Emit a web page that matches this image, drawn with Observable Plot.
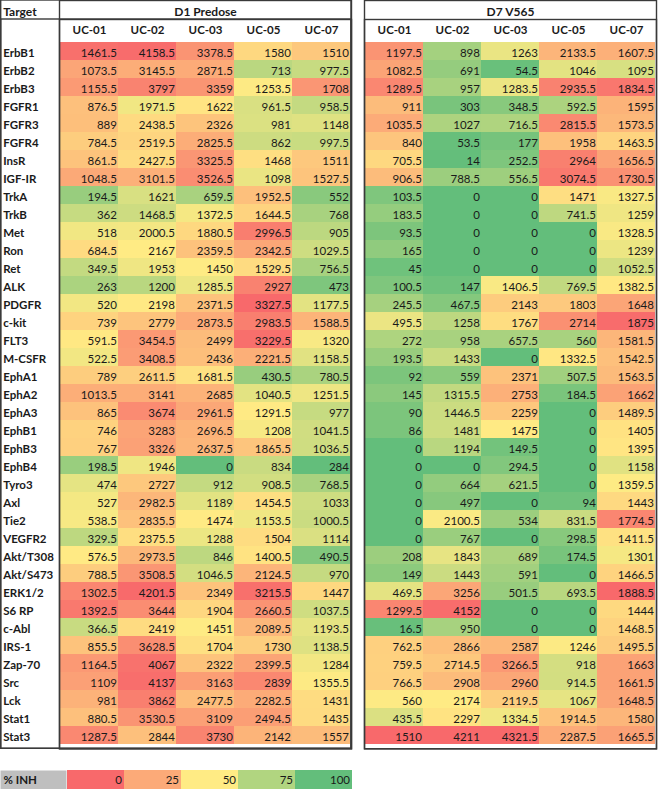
<!DOCTYPE html>
<html><head><meta charset="utf-8">
<script src="https://cdn.jsdelivr.net/npm/d3@7"></script>
<script src="https://cdn.jsdelivr.net/npm/@observablehq/plot@0.6"></script>
<style>
body{margin:0;background:#fff;font-family:Lato,sans-serif;}
#legend{margin-top:21px;line-height:0}
#chart{line-height:0}
</style></head><body><div id="chart"></div><div id="legend"></div>
<script>
const targets=["ErbB1","ErbB2","ErbB3","FGFR1","FGFR3","FGFR4","InsR","IGF-IR","TrkA","TrkB","Met","Ron","Ret","ALK","PDGFR","c-kit","FLT3","M-CSFR","EphA1","EphA2","EphA3","EphB1","EphB3","EphB4","Tyro3","Axl","Tie2","VEGFR2","Akt/T308","Akt/S473","ERK1/2","S6 RP","c-Abl","IRS-1","Zap-70","Src","Lck","Stat1","Stat3"];
const patients=["UC-01","UC-02","UC-03","UC-05","UC-07"];
const days=["D1 Predose","D7 V565"];
const legendStops=[0,25,50,75,100];

const d1_UC01=[1461.5,1073.5,1155.5,876.5,889,784.5,861.5,1048.5,194.5,362,518,684.5,349.5,263,520,739,591.5,522.5,789,1013.5,865,746,767,198.5,474,527,538.5,329.5,576.5,788.5,1302.5,1392.5,366.5,855.5,1164.5,1109,981,880.5,1287.5];
const d1_UC02=[4158.5,3145.5,3797,1971.5,2438.5,2519.5,2427.5,3101.5,1621,1468.5,2000.5,2167,1953,1200,2198,2779,3454.5,3408.5,2611.5,3141,3674,3283,3326,1946,2727,2982.5,2835.5,2375.5,2973.5,3508.5,4201.5,3644,2419,3628.5,4067,4137,3862,3530.5,2844];
const d1_UC03=[3378.5,2871.5,3359,1622,2326,2825.5,3325.5,3526.5,659.5,1372.5,1880.5,2359.5,1450,1285.5,2371.5,2873.5,2499,2436,1681.5,2685,2961.5,2696.5,2637.5,0,912,1189,1474,1288,846,1046.5,2349,1904,1451,1704,2322,3163,2477.5,3109,3730];
const d1_UC05=[1580,713,1253.5,961.5,981,862,1468,1098,1952.5,1644.5,2996.5,2342.5,1529.5,2927,3327.5,2983.5,3229.5,2221.5,430.5,1040.5,1291.5,1208,1865.5,834,908.5,1454.5,1153.5,1504,1400.5,2124.5,3215.5,2660.5,2089.5,1730,2399.5,2839,2282.5,2494.5,2142];
const d1_UC07=[1510,977.5,1708,958.5,1148,997.5,1511,1527.5,552,768,905,1029.5,756.5,473,1177.5,1588.5,1320,1158.5,780.5,1251.5,977,1041.5,1036.5,284,768.5,1033,1000.5,1114,490.5,970,1447,1037.5,1193.5,1138.5,1284,1355.5,1431,1435,1557];
const d7_UC01=[1197.5,1082.5,1289.5,911,1035.5,840,705.5,906.5,103.5,183.5,93.5,165,45,100.5,245.5,495.5,272,193.5,92,145,90,86,0,0,0,0,0,0,208,149,469.5,1299.5,16.5,762.5,759.5,766.5,560,435.5,1510];
const d7_UC02=[898,691,957,303,1027,53.5,14,788.5,0,0,0,0,0,147,467.5,1258,958,1433,559,1315.5,1446.5,1481,1194,0,664,497,2100.5,767,1843,1443,3256,4152,950,2866,2714.5,2908,2174,2297,4211];
const d7_UC03=[1263,54.5,1283.5,348.5,716.5,177,252.5,556.5,0,0,0,0,0,1406.5,2143,1767,657.5,0,2371,2753,2259,1475,149.5,294.5,621.5,0,534,0,689,591,501.5,0,0,2587,3266.5,2960,2119.5,1334.5,4321.5];
const d7_UC05=[2133.5,1046,2935.5,592.5,2815.5,1958,2964,3074.5,1471,741.5,0,0,0,769.5,1803,2714,560,1332.5,507.5,184.5,0,0,0,0,0,94,831.5,298.5,174.5,0,693.5,0,0,1246,918,914.5,1067,1914.5,2287.5];
const d7_UC07=[1607.5,1095,1834.5,1595,1573.5,1463.5,1656.5,1730.5,1327.5,1259,1328.5,1239,1052.5,1382.5,1648,1875,1581.5,1542.5,1563.5,1662,1489.5,1405,1395,1158,1359.5,1443,1774.5,1411.5,1301,1466.5,1888.5,1444,1468.5,1495.5,1663,1661.5,1648.5,1580,1665.5];

const series=[
 [days[0],"UC-01",d1_UC01],[days[0],"UC-02",d1_UC02],[days[0],"UC-03",d1_UC03],[days[0],"UC-05",d1_UC05],[days[0],"UC-07",d1_UC07],
 [days[1],"UC-01",d7_UC01],[days[1],"UC-02",d7_UC02],[days[1],"UC-03",d7_UC03],[days[1],"UC-05",d7_UC05],[days[1],"UC-07",d7_UC07]
];
const rows=[];
for(const [day,patient,vals] of series) vals.forEach((v,i)=>rows.push({day,patient,target:targets[i],value:v}));
// Excel-style 3-colour scale per patient (min / median / max over both days)
for(const p of patients){
  const vs=rows.filter(r=>r.patient===p).map(r=>r.value).sort(d3.ascending);
  const lo=vs[0],hi=vs[vs.length-1],med=d3.quantileSorted(vs,0.5);
  for(const r of rows) if(r.patient===p){
    const t=r.value<=med?0.5*(r.value-lo)/(med-lo):0.5+0.5*(r.value-med)/(hi-med);
    r.inh=100*(1-t);
  }
}
const colorScale={type:"linear",domain:[0,50,100],range:["#F8696B","#FFEB84","#63BE7B"],interpolate:"rgb"};
const ink="#1a1a1a", line="#3a3a3a";
const fs="11.5px";
const mt=37.5;

const chart=Plot.plot({
  width:658,height:749,marginLeft:59,marginRight:1,marginTop:mt,marginBottom:0.7,
  style:{fontFamily:"Lato, sans-serif",fontSize:fs,color:ink,background:"#fff",overflow:"visible"},
  fx:{domain:days,paddingInner:13/305.5,paddingOuter:0,axis:null,label:null},
  x:{domain:patients,padding:0,axis:null},
  y:{domain:targets,padding:0,axis:null},
  color:colorScale,
  marks:[
    Plot.cell(rows,{fx:"day",x:"patient",y:"target",fill:"inh"}),
    Plot.text(rows,{fx:"day",x:"patient",y:"target",text:d=>String(d.value),textAnchor:"end",dx:27.4,dy:1.5,fill:ink}),
    Plot.axisY({tickSize:0,tickPadding:56.3,textAnchor:"start",fontWeight:"bold",dy:1.5,label:null,fill:ink}),
    Plot.axisX({anchor:"top",tickSize:0,tickPadding:8,lineAnchor:"middle",fontWeight:"bold",label:null,fill:ink}),
    Plot.axisFx({anchor:"top",tickSize:0,tickPadding:25.5,lineAnchor:"middle",fontWeight:"bold",fontSize:"12px",label:null,fill:ink}),
    Plot.text(["Target"],{fx:()=>days[0],frameAnchor:"top-left",textAnchor:"start",dx:-56.3,dy:-25.5,lineAnchor:"middle",fontWeight:"bold",fontSize:"12px",fill:ink}),
    Plot.frame({insetTop:-mt,stroke:line,strokeWidth:1.4}),
    Plot.frame({insetTop:-18.5,stroke:line,strokeWidth:1.4}),
    Plot.rect([days[0]],{fx:d=>d,insetLeft:-58.3,insetTop:-mt,stroke:line,strokeWidth:1.4,fill:"none"}),
    Plot.rect([days[0]],{fx:d=>d,insetLeft:-58.3,insetTop:-18.5,stroke:line,strokeWidth:1.4,fill:"none"})
  ]
});
document.getElementById("chart").append(chart);

const legend=Plot.plot({
  width:352,height:19,marginLeft:66,marginRight:0,marginTop:0,marginBottom:0,
  style:{fontFamily:"Lato, sans-serif",fontSize:fs,color:ink,background:"#fff",overflow:"visible"},
  x:{type:"band",domain:legendStops,padding:0,axis:null},
  color:colorScale,
  marks:[
    Plot.frame({fill:"#bfbfbf",stroke:"none",insetLeft:-66,insetRight:286}),
    Plot.text(["% INH"],{frameAnchor:"left",dx:-63,textAnchor:"start",fontWeight:"bold",fill:ink,dy:0.5}),
    Plot.cell(legendStops,{x:d=>d,fill:d=>d}),
    Plot.text(legendStops,{x:d=>d,text:d=>String(d),textAnchor:"end",dx:26,dy:0.5,fill:ink})
  ]
});
document.getElementById("legend").append(legend);
</script></body></html>
